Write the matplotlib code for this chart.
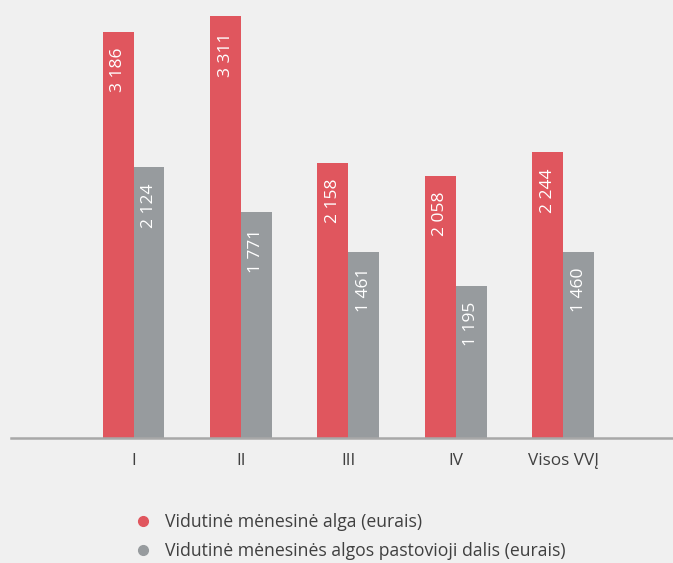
import numpy as np
import matplotlib
matplotlib.use("Agg")
import matplotlib.pyplot as plt
from matplotlib.lines import Line2D

categories = ["I", "II", "III", "IV", "Visos VVĮ"]
avg_salary = [3186, 3311, 2158, 2058, 2244]
fixed_part = [2124, 1771, 1461, 1195, 1460]
series_names = ["Vidutinė mėnesinė alga (eurais)",
                "Vidutinė mėnesinės algos pastovioji dalis (eurais)"]

RED = "#e0565e"
GREY = "#979b9e"
BG = "#f0f0f0"

plt.rcParams['font.family'] = ['Open Sans', 'DejaVu Sans']

fig = plt.figure(figsize=(6.73, 5.63), dpi=100, facecolor=BG)
# axes: left at x=11px, baseline at y=438px, top at y=0
ax = fig.add_axes([11 / 673, (563 - 438) / 563, 662 / 673, 438 / 563])
ax.set_facecolor(BG)

x = np.arange(len(categories))
w = 0.288
bars_r = ax.bar(x - w / 2, avg_salary, w, color=RED)
bars_g = ax.bar(x + w / 2, fixed_part, w, color=GREY)

ax.set_xlim(-1.14, 5.02)
ax.set_ylim(0, 3437)

def fmt(v):
    return f"{v:,}".replace(",", " ")

for bars, vals in ((bars_r, avg_salary), (bars_g, fixed_part)):
    for b, v in zip(bars, vals):
        ax.annotate(fmt(v), (b.get_x() + b.get_width() / 2, v),
                    xytext=(0, -11.5), textcoords="offset points",
                    rotation=90, ha="center", va="top",
                    color="white", fontsize=12.5)

for s in ("top", "right", "left"):
    ax.spines[s].set_visible(False)
ax.spines["bottom"].set_color("#a8a8a8")
ax.spines["bottom"].set_linewidth(1.8)
ax.set_yticks([])
ax.set_xticks(x)
ax.set_xticklabels(categories, fontsize=12.3, color="#404040")
ax.tick_params(axis="x", length=0, pad=11)

handles = [Line2D([], [], marker="o", linestyle="", color=RED, markersize=7),
           Line2D([], [], marker="o", linestyle="", color=GREY, markersize=7)]
fig.legend(handles, series_names, loc="upper left",
           bbox_to_anchor=(118 / 673, 1 - 497 / 563), frameon=False,
           fontsize=12.7, labelcolor="#404040", handletextpad=0.75,
           labelspacing=0.62, handlelength=1.0)

fig.savefig("out.png", dpi=100, facecolor=BG)
